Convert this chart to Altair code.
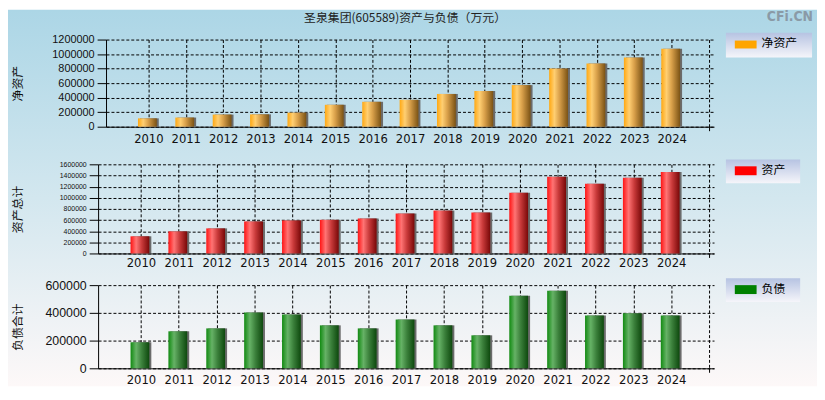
import altair as alt
import pandas as pd

# ---------------- data ----------------
years = list(range(2010, 2025))
net_assets = [115000, 126000, 167000, 170000, 194000, 302000, 343000, 370000,
              451000, 492000, 573000, 803000, 871000, 952000, 1074000]
total_assets = [308000, 397000, 450000, 575000, 593000, 604000, 628000, 717000,
                770000, 735000, 1090000, 1375000, 1250000, 1357000, 1464000]
liabilities = [188000, 267000, 288000, 402000, 388000, 310000, 288000, 352000,
               310000, 238000, 524000, 560000, 381000, 398000, 381000]

ticks_net = [0, 200000, 400000, 600000, 800000, 1000000, 1200000]
ticks_assets = [0, 200000, 400000, 600000, 800000, 1000000, 1200000, 1400000, 1600000]
ticks_liab = [0, 200000, 400000, 600000]

chart_title = "圣泉集团(605589)资产与负债（万元）"
watermark = "CFi.CN"
y_titles = ["净资产", "资产总计", "负债合计"]
legend_labels = ["净资产", "资产", "负债"]

df = pd.DataFrame({"year": years, "net": net_assets, "assets": total_assets, "liab": liabilities})
one = pd.DataFrame({"k": [0]})

FONT_NUM = "Liberation Sans"
FONT_X = "Liberation Sans Narrow, DejaVu Sans Condensed, Liberation Sans"
FONT_CJK = "Noto Sans CJK SC"

W = 622


def grad(stops, horizontal=True):
    return alt.Gradient(
        gradient="linear",
        x1=0, y1=0,
        x2=1 if horizontal else 0,
        y2=0 if horizontal else 1,
        stops=[alt.GradientStop(offset=o, color=c) for o, c in stops],
    )


orange = [(0, "#ffa812"), (0.28, "#ffcf72"), (0.55, "#d9a04a"), (1, "#7a5214")]
red = [(0, "#ff1414"), (0.3, "#ff7474"), (0.6, "#c93a3a"), (1, "#780808")]
green = [(0, "#118a11"), (0.3, "#66b266"), (0.6, "#3b803b"), (1, "#0d480d")]
legend_grad = grad([(0, "#b6c3e2"), (1, "#f5f5fa")], horizontal=False)
bg_grad = grad([(0, "#acd6e6"), (0.5, "#d3e7ef"), (1, "#fdf8f8")], horizontal=False)


def panel(field, ticks, stops, ytitle, label_size, legend_text, swatch_color,
          box_y, sw_y, txt_y, box_x2, height, x_range, y_offset, title_x, x_pad):
    last = years[-1]
    x_axis = alt.Axis(
        values=years + [last + 1], format="d",
        labelExpr=f"datum.value > {last} ? '' : datum.label",
        grid=True, gridColor="black", gridDash=[3, 2], gridWidth=1,
        domainColor="black", domainWidth=1,
        tickSize=4,
        tickColor={"condition": {"test": f"datum.value > {last}", "value": "black"},
                   "value": "transparent"},
        labelFont=FONT_X, labelFontSize=13, labelColor="#111",
        labelPadding=x_pad, labelFlush=False, labelOverlap=False, title=None,
    )
    x = alt.X("year:Q",
              scale=alt.Scale(domain=[years[0] - 1, last + 1], range=x_range,
                              nice=False, zero=False),
              axis=x_axis)
    y_axis = alt.Axis(
        values=ticks, format="d",
        grid=True, gridColor="black", gridDash=[3, 2], gridWidth=1,
        domainColor="black", domainWidth=1,
        tickColor="black", tickSize=9, labelPadding=3,
        labelFont=FONT_NUM, labelFontSize=label_size, labelColor="#111",
        labelOverlap=False,
        title=ytitle, titleFont=FONT_CJK, titleFontSize=12, titleFontWeight="normal",
        titleColor="#111", titleAngle=270, titleX=title_x, titleY=height / 2,
        titleBaseline="middle", titleAlign="center",
        offset=y_offset,
    )
    y = alt.Y(f"{field}:Q", scale=alt.Scale(domain=[ticks[0], ticks[-1]], nice=False),
              axis=y_axis)
    base = alt.Chart(df)
    shadow = base.mark_bar(color="#6b6b6b", size=19, xOffset=1).encode(x=x, y=y)
    bars = base.mark_bar(fill=grad(stops), size=19, xOffset=-1).encode(x=x, y=y)
    box = alt.Chart(one).mark_rect(fill=legend_grad).encode(
        x=alt.value(634), x2=alt.value(box_x2), y=alt.value(box_y[0]), y2=alt.value(box_y[1]))
    sw = alt.Chart(one).mark_rect(fill=swatch_color).encode(
        x=alt.value(643), x2=alt.value(665), y=alt.value(sw_y[0]), y2=alt.value(sw_y[1]))
    tx = alt.Chart(one).mark_text(text=legend_text, align="left", baseline="middle",
                                  font=FONT_CJK, fontSize=12, color="black").encode(
        x=alt.value(670), y=alt.value(txt_y))
    return alt.layer(shadow, bars, box, sw, tx).properties(width=W, height=height)


p1 = panel("net", ticks_net, orange, y_titles[0], 11, legend_labels[0], "#ffa500",
           (-7, 18), (1, 9), 4, 721, 88, [8, W], -8, -89, 2)
p2 = panel("assets", ticks_assets, red, y_titles[1], 7, legend_labels[1], "#ff0000",
           (-5, 19), (2, 11), 6, 709, 90, [0, W], 0, -81, -1)
p3 = panel("liab", ticks_liab, green, y_titles[2], 12.5, legend_labels[2], "#008000",
           (-7, 17), (0, 9), 4, 709, 84, [0, W], 0, -81, 1)

# background / title view (drawn first, behind everything); its origin is the canvas top
bg = alt.layer(
    alt.Chart(one).mark_rect(fill=bg_grad).encode(
        x=alt.value(-91), x2=alt.value(726), y=alt.value(0), y2=alt.value(380)),
    alt.Chart(one).mark_text(text=chart_title, font=FONT_CJK, fontSize=12,
                             color="#222", baseline="middle").encode(
        x=alt.value(310), y=alt.value(8)),
    alt.Chart(one).mark_text(text=watermark, font=FONT_X, fontSize=14, fontWeight="bold",
                             color="#8a9aa6", baseline="middle", align="right").encode(
        x=alt.value(722), y=alt.value(7)),
).properties(width=W, height=1)

inner = alt.vconcat(p2, p3, spacing=32, bounds="flush")
rest = alt.vconcat(p1, inner, spacing=38, bounds="flush")
chart = alt.vconcat(bg, rest, spacing=29, bounds="flush").properties(
    padding=0, background="white"
).configure_view(stroke=None)

chart.save("out.html", embed_options={"renderer": "svg", "actions": False})
